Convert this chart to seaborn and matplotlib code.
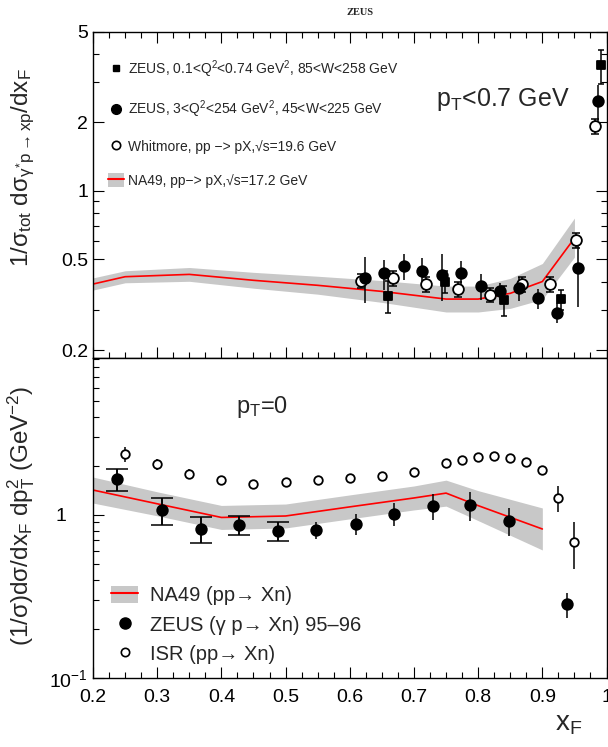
import numpy as np
import pandas as pd
import matplotlib
matplotlib.use("Agg")
import matplotlib.pyplot as plt
from matplotlib.lines import Line2D
from matplotlib.patches import Patch
from matplotlib.ticker import FixedLocator, NullFormatter
import seaborn as sns

# ---- top panel: pT < 0.7 GeV ----
zeus_lowq_x = [0.660, 0.749, 0.840, 0.929, 0.991]
zeus_lowq_y = [0.346, 0.400, 0.331, 0.334, 3.56]
zeus_lowq_err = [0.055, 0.045, 0.05, 0.035, 0.6]

zeus_dis_x = [0.624, 0.654, 0.684, 0.713, 0.744, 0.774, 0.804, 0.834, 0.864, 0.893, 0.923, 0.955, 0.986]
zeus_dis_y = [0.416, 0.434, 0.467, 0.446, 0.427, 0.437, 0.382, 0.363, 0.375, 0.337, 0.292, 0.46, 2.47]
zeus_dis_err = [0.095, 0.065, 0.06, 0.06, 0.1, 0.055, 0.05, 0.03, 0.045, 0.035, 0.03, 0.15, 0.45]

whitmore_x = [0.618, 0.668, 0.719, 0.768, 0.818, 0.868, 0.912, 0.952, 0.982]
whitmore_y = [0.403, 0.413, 0.390, 0.370, 0.350, 0.390, 0.390, 0.608, 1.92]
whitmore_err = [0.03, 0.03, 0.03, 0.028, 0.025, 0.03, 0.03, 0.045, 0.14]

na49_top_x = [0.2, 0.25, 0.35, 0.45, 0.55, 0.65, 0.75, 0.8, 0.85, 0.9, 0.95]
na49_top_y = [0.39, 0.42, 0.43, 0.405, 0.385, 0.362, 0.335, 0.335, 0.355, 0.40, 0.62]
na49_top_lo = [0.367, 0.395, 0.401, 0.374, 0.352, 0.324, 0.294, 0.294, 0.305, 0.334, 0.512]
na49_top_hi = [0.415, 0.446, 0.461, 0.439, 0.422, 0.404, 0.382, 0.382, 0.413, 0.48, 0.76]

# ---- bottom panel: pT = 0 ----
zeus_gp_x = [0.238, 0.308, 0.368, 0.428, 0.488, 0.548, 0.609, 0.669, 0.729, 0.788, 0.848, 0.938]
zeus_gp_y = [1.65, 1.07, 0.82, 0.87, 0.80, 0.81, 0.88, 1.02, 1.135, 1.15, 0.92, 0.285]
zeus_gp_err = [0.25, 0.20, 0.15, 0.12, 0.11, 0.10, 0.13, 0.17, 0.21, 0.23, 0.18, 0.05]

isr_x = [0.25, 0.30, 0.35, 0.40, 0.45, 0.50, 0.55, 0.60, 0.65, 0.70, 0.75, 0.775,
         0.80, 0.825, 0.85, 0.875, 0.90, 0.925, 0.95]
isr_y = [2.36, 2.04, 1.79, 1.64, 1.555, 1.59, 1.64, 1.68, 1.73, 1.83, 2.07, 2.17,
         2.26, 2.31, 2.24, 2.10, 1.88, 1.27, 0.686]
isr_err = [0.25, 0.15, 0.12, 0.10, 0.08, 0.08, 0.06, 0.06, 0.06, 0.06, 0.05, 0.05,
           0.05, 0.05, 0.05, 0.06, 0.10, 0.23, 0.22]

na49_bot_x = [0.2, 0.3, 0.4, 0.5, 0.6, 0.7, 0.75, 0.8, 0.9]
na49_bot_y = [1.42, 1.17, 0.965, 0.985, 1.12, 1.27, 1.36, 1.14, 0.82]
na49_bot_lo = [1.182, 0.988, 0.815, 0.832, 0.946, 1.073, 1.132, 0.923, 0.61]
na49_bot_hi = [1.705, 1.385, 1.143, 1.166, 1.326, 1.504, 1.633, 1.408, 1.103]

xticks = [0.2, 0.3, 0.4, 0.5, 0.6, 0.7, 0.8, 0.9, 1.0]
xticklabels = ["0.2", "0.3", "0.4", "0.5", "0.6", "0.7", "0.8", "0.9", "1"]

BAND = "#c8c8c8"

sns.set_theme(style="ticks")
plt.rcParams["font.family"] = ["Liberation Sans", "DejaVu Sans"]
plt.rcParams["mathtext.fontset"] = "custom"
plt.rcParams["mathtext.rm"] = "Liberation Sans"
plt.rcParams["mathtext.it"] = "Liberation Sans"
plt.rcParams["mathtext.default"] = "regular"

fig = plt.figure(figsize=(6.08, 7.47), dpi=100)
ax1 = fig.add_axes([0.153, 0.5203, 0.8446, 0.4372])
ax2 = fig.add_axes([0.153, 0.0920, 0.8446, 0.4284])


def style_axes(ax, both_sides):
    ax.set_xlim(0.2, 1.0)
    ax.set_xticks(xticks)
    ax.xaxis.set_minor_locator(FixedLocator(np.arange(0.2, 1.0001, 0.025)))
    ax.tick_params(which="both", direction="in", width=0.8,
                   top=both_sides, right=both_sides, colors="black")
    ax.tick_params(which="major", length=8)
    ax.tick_params(which="minor", length=4)
    for sp in ax.spines.values():
        sp.set_visible(True)
        sp.set_color("black")
        sp.set_linewidth(1.0)


def band_and_line(ax, x, y, lo, hi):
    ax.fill_between(x, lo, hi, color=BAND, lw=0, zorder=1)
    sns.lineplot(x=x, y=y, ax=ax, color="red", lw=1.2, sort=False,
                 estimator=None, zorder=2, legend=False)


def points(ax, x, y, err, marker, size, filled, capsize=0):
    ax.errorbar(x, y, yerr=err, fmt="none", ecolor="black", elinewidth=1.1,
                capsize=capsize, capthick=1.1, zorder=3)
    sns.scatterplot(x=x, y=y, ax=ax, marker=marker, s=size,
                    color="black" if filled else "white",
                    edgecolor="black", linewidth=1.3, zorder=4, legend=False)


# ---- top panel ----
band_and_line(ax1, na49_top_x, na49_top_y, na49_top_lo, na49_top_hi)
points(ax1, whitmore_x, whitmore_y, whitmore_err, "o", 60, False, capsize=3)
points(ax1, zeus_dis_x, zeus_dis_y, zeus_dis_err, "o", 58, True)
points(ax1, zeus_lowq_x, zeus_lowq_y, zeus_lowq_err, "s", 30, True, capsize=2.5)

ax1.set_yscale("log")
ax1.set_ylim(0.184, 5)
style_axes(ax1, True)
ax1.yaxis.set_major_locator(FixedLocator([0.2, 0.5, 1, 2, 5]))
ax1.set_yticklabels(["0.2", "0.5", "1", "2", "5"])
ax1.yaxis.set_minor_locator(FixedLocator([0.3, 0.4, 0.6, 0.7, 0.8, 0.9, 3, 4]))
ax1.yaxis.set_minor_formatter(NullFormatter())
ax1.tick_params(axis="y", labelsize=14)
ax1.set_xticklabels([])
ax1.set_xlabel("")
ax1.set_ylabel(r"$1/\sigma_{tot}\ d\sigma_{\gamma^{*}p\rightarrow xp}/dx_{F}$",
               fontsize=17.5, loc="top")
ax1.yaxis.set_label_coords(-0.109, 0.89)

ax1.text(0.668, 0.772, r"$p_{T}$<0.7 GeV", transform=ax1.transAxes,
         fontsize=18, ha="left", va="baseline")

h_sq = Line2D([], [], marker="s", color="black", ls="none", markersize=5)
h_fc = Line2D([], [], marker="o", color="black", ls="none", markersize=7)
h_oc = Line2D([], [], marker="o", mfc="white", mec="black", mew=1.2, ls="none", markersize=6)
h_na = (Patch(facecolor=BAND, edgecolor="none"), Line2D([], [], color="red", lw=1.5))
ax1.legend([h_sq, h_fc, h_oc, h_na],
           [r"ZEUS, 0.1<Q$^{2}$<0.74 GeV$^{2}$, 85<W<258 GeV",
            r"ZEUS, 3<Q$^{2}$<254 GeV$^{2}$, 45<W<225 GeV",
            "Whitmore, pp −> pX,√s=19.6 GeV",
            "NA49, pp−> pX,√s=17.2 GeV"],
           loc="upper left", bbox_to_anchor=(0.029, 0.918), frameon=False,
           fontsize=10, handlelength=1.15, handleheight=1.2,
           handletextpad=0.3, labelspacing=1.35, borderpad=0, borderaxespad=0)

# ---- bottom panel ----
band_and_line(ax2, na49_bot_x, na49_bot_y, na49_bot_lo, na49_bot_hi)
points(ax2, isr_x, isr_y, isr_err, "o", 38, False)
ax2.errorbar(zeus_gp_x[:5], zeus_gp_y[:5], yerr=zeus_gp_err[:5], fmt="none",
             ecolor="black", elinewidth=1.1, capsize=8, capthick=1.1, zorder=3)
points(ax2, zeus_gp_x, zeus_gp_y, zeus_gp_err, "o", 58, True)

ax2.set_yscale("log")
ax2.set_ylim(0.1, 9.1)
style_axes(ax2, False)
ax2.yaxis.set_major_locator(FixedLocator([0.1, 1]))
ax2.set_yticklabels([r"$10^{-1}$", "1    "])
ax2.yaxis.set_minor_locator(FixedLocator(
    [0.2, 0.3, 0.4, 0.5, 0.6, 0.7, 0.8, 0.9, 2, 3, 4, 5, 6, 7, 8, 9]))
ax2.yaxis.set_minor_formatter(NullFormatter())
ax2.tick_params(axis="y", labelsize=14)
ax2.set_xticklabels(xticklabels)
ax2.tick_params(axis="x", labelsize=14, pad=8)
ax2.set_xlabel("")
ax2.set_ylabel(r"$(1/\sigma)d\sigma/dx_{F}\ dp_{T}^{2}\ (GeV^{-2})$",
               fontsize=17.5, loc="top")
ax2.yaxis.set_label_coords(-0.109, 0.915)

ax2.text(0.278, 0.83, r"$p_{T}$=0", transform=ax2.transAxes,
         fontsize=17, ha="left", va="baseline")

h_na2 = (Patch(facecolor=BAND, edgecolor="none"), Line2D([], [], color="red", lw=1.5))
h_z2 = Line2D([], [], marker="o", color="black", ls="none", markersize=8)
h_i2 = Line2D([], [], marker="o", mfc="white", mec="black", mew=1.2, ls="none", markersize=6)
ax2.legend([h_na2, h_z2, h_i2],
           ["NA49 (pp→ Xn)", "ZEUS (γ p→ Xn) 95–96", "ISR (pp→ Xn)"],
           loc="lower left", bbox_to_anchor=(0.035, 0.045), frameon=False,
           fontsize=14.5, handlelength=1.35, handleheight=0.9,
           handletextpad=0.6, labelspacing=0.5, borderpad=0, borderaxespad=0)

fig.text(0.913, 0.022, r"$x_{F}$", fontsize=20, ha="left", va="baseline")
fig.text(0.592, 0.983, "ZEUS", fontsize=7.5, fontweight="bold",
         family=["Liberation Serif", "DejaVu Serif"], ha="center", va="center")

fig.savefig("out.png", dpi=100)
